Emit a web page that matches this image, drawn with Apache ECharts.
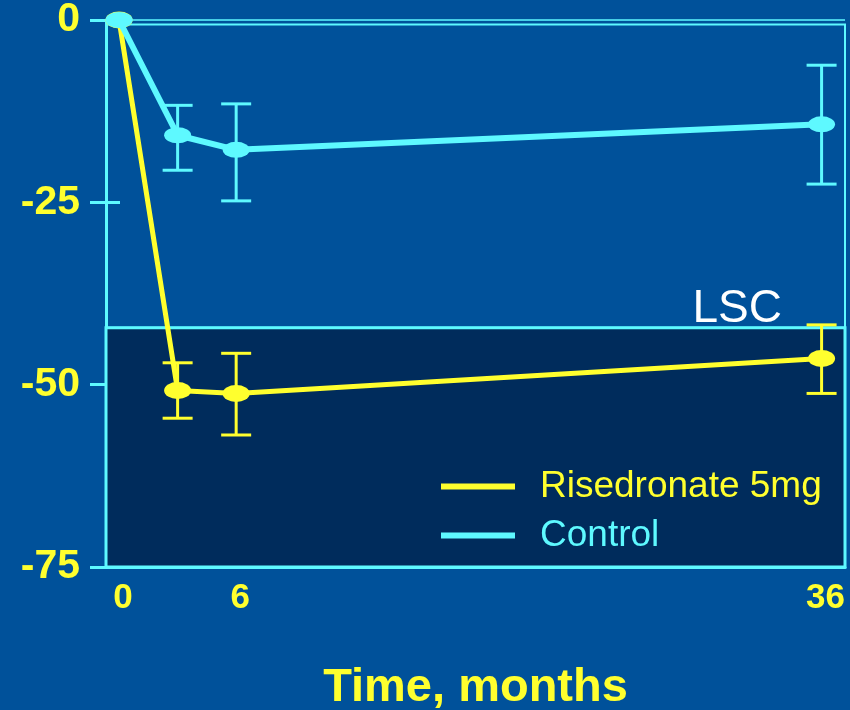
<!DOCTYPE html>
<html>
<head>
<meta charset="utf-8">
<script src="https://cdn.jsdelivr.net/npm/echarts@6/dist/echarts.min.js"></script>
<style>
  html, body { margin: 0; padding: 0; background: #00519a; }
  #chart { width: 850px; height: 710px; }
</style>
</head>
<body>
<div id="chart"></div>
<script>
// time points (months)
var months = [0, 3, 6, 36];
var xTickValues = [0, 6, 36];

// Risedronate 5mg: mean and error bar ends
var riseMean = [0, -50.8, -51.2, -46.4];
var riseLow = [null, -54.6, -56.9, -51.2];
var riseHigh = [null, -47, -45.7, -41.8];

// Control
var ctrlMean = [0, -15.8, -17.8, -14.3];
var ctrlLow = [null, -20.6, -24.8, -22.5];
var ctrlHigh = [null, -11.7, -11.5, -6.2];

var lscValue = -42.2;

var yellow = '#ffff2e';
var cyan = '#5ef9ff';
var font = 'Liberation Sans, Arial, sans-serif';

function pairs(xs, ys) {
    var out = [];
    for (var i = 0; i < xs.length; i++) out.push([xs[i], ys[i]]);
    return out;
}

function errData(xs, lo, hi) {
    var out = [];
    for (var i = 0; i < xs.length; i++) {
        if (lo[i] == null) continue;
        out.push([xs[i], lo[i], hi[i]]);
    }
    return out;
}

function errorBars(color) {
    return function (params, api) {
        var x = api.value(0);
        var pLo = api.coord([x, api.value(1)]);
        var pHi = api.coord([x, api.value(2)]);
        var cap = 15;
        var style = { stroke: color, lineWidth: 3 };
        return {
            type: 'group',
            children: [
                { type: 'line', shape: { x1: pLo[0], y1: pLo[1], x2: pHi[0], y2: pHi[1] }, style: style },
                { type: 'line', shape: { x1: pLo[0] - cap, y1: pLo[1], x2: pLo[0] + cap, y2: pLo[1] }, style: style },
                { type: 'line', shape: { x1: pHi[0] - cap, y1: pHi[1], x2: pHi[0] + cap, y2: pHi[1] }, style: style }
            ]
        };
    };
}

var chart = echarts.init(document.getElementById('chart'));

var option = {
    backgroundColor: '#00519a',
    animation: false,
    title: {
        text: 'LSC',
        right: 68,
        top: 286,
        padding: 0,
        textStyle: { color: '#ffffff', fontSize: 46, fontWeight: 'normal', fontFamily: font }
    },
    grid: { left: 106, right: 5, top: 20, bottom: 143, containLabel: false, outerBoundsMode: 'none' },
    legend: {
        orient: 'vertical',
        left: 441,
        top: 468,
        padding: 0,
        icon: 'rect',
        itemWidth: 74,
        itemHeight: 6,
        itemGap: 12,
        textStyle: { fontSize: 37, fontFamily: font, padding: [0, 0, 0, 20] },
        data: [
            { name: 'Risedronate 5mg', textStyle: { color: yellow } },
            { name: 'Control', textStyle: { color: cyan } }
        ]
    },
    xAxis: {
        type: 'value',
        min: -0.67,
        max: 37.2,
        name: 'Time, months',
        nameLocation: 'middle',
        nameGap: 98,
        nameTextStyle: { color: yellow, fontSize: 47, fontWeight: 'bold', fontFamily: font },
        axisLine: { show: true, onZero: false, lineStyle: { color: cyan, width: 3 } },
        axisTick: { show: false },
        splitLine: { show: false },
        axisLabel: {
            customValues: xTickValues,
            color: yellow,
            fontSize: 35,
            fontWeight: 'bold',
            fontFamily: font,
            margin: 14,
            padding: [0, 0, 0, 8]
        }
    },
    yAxis: [{
        type: 'value',
        min: -75,
        max: 0,
        interval: 25,
        axisLine: { show: true, onZero: false, lineStyle: { color: cyan, width: 3 } },
        axisTick: { show: true, length: 16, lineStyle: { color: cyan, width: 3 } },
        splitLine: { show: false },
        axisLabel: {
            color: yellow,
            fontSize: 41,
            fontWeight: 'bold',
            fontFamily: font,
            margin: 26
        }
    }, {
        type: 'value',
        position: 'left',
        min: -75,
        max: 0,
        interval: 25,
        axisLine: { show: false, onZero: false },
        axisTick: { show: true, inside: true, length: 14, lineStyle: { color: cyan, width: 3 } },
        axisLabel: { show: false },
        splitLine: { show: false }
    }],
    series: [{
        name: 'Risedronate 5mg',
        type: 'line',
        data: pairs(months, riseMean),
        symbol: 'circle',
        symbolSize: [27, 17],
        itemStyle: { color: yellow },
        lineStyle: { color: yellow, width: 5 },
        z: 3,
        markArea: {
            silent: true,
            data: [
                [{ yAxis: lscValue, itemStyle: { color: '#002c5c', borderColor: cyan, borderWidth: 3 } },
                 { yAxis: -75 }],
                [{ yAxis: -0.6, itemStyle: { color: 'rgba(0,0,0,0)', borderColor: cyan, borderWidth: 2 } },
                 { yAxis: lscValue }]
            ]
        },
        markLine: {
            silent: true,
            symbol: 'none',
            label: { show: false },
            lineStyle: { color: cyan, width: 1.5, type: 'solid' },
            data: [{ yAxis: 0 }]
        }
    }, {
        name: 'Control',
        type: 'line',
        data: pairs(months, ctrlMean),
        symbol: 'circle',
        symbolSize: [27, 16],
        itemStyle: { color: cyan },
        lineStyle: { color: cyan, width: 6 },
        z: 4
    }, {
        name: 'Risedronate 5mg',
        type: 'custom',
        renderItem: errorBars(yellow),
        data: errData(months, riseLow, riseHigh),
        z: 3
    }, {
        name: 'Control',
        type: 'custom',
        renderItem: errorBars(cyan),
        data: errData(months, ctrlLow, ctrlHigh),
        z: 4
    }]
};

chart.setOption(option);
</script>
</body>
</html>
